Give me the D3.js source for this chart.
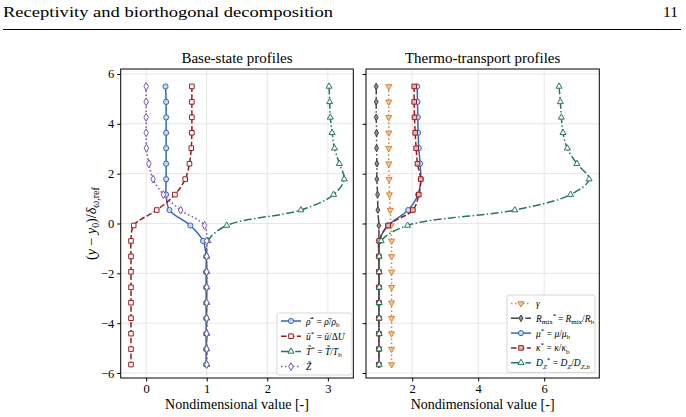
<!DOCTYPE html>
<html lang="en">
<head>
<style>
html, body {
    margin: 0;
    padding: 0;
    background: #fff;
}
svg {
    width: 686px;
    height: 417px;
    display: block;
}
</style>
</head>
<body>
<svg></svg>

<script src="https://cdn.jsdelivr.net/npm/d3@7/dist/d3.min.js"></script>
<script>
// profile data (y position of each marker)
var yPos = [5.5, 4.88, 4.26, 3.64, 3.02, 2.40, 1.78, 1.16, 0.54, -0.08, -0.70,
            -1.32, -1.94, -2.56, -3.18, -3.80, -4.42, -5.04, -5.66];

// base-state profiles
var rhoVals = [0.32, 0.33, 0.33, 0.33, 0.33, 0.33, 0.33, 0.33, 0.385, 0.73, 0.94,
               0.99, 0.99, 0.99, 0.99, 0.99, 0.99, 0.99, 0.99];
var uVals   = [0.755, 0.755, 0.755, 0.755, 0.745, 0.715, 0.645, 0.475, 0.175, -0.205, -0.25,
               -0.25, -0.25, -0.25, -0.25, -0.25, -0.25, -0.25, -0.25];
var tVals   = [3.02, 3.03, 3.04, 3.07, 3.11, 3.19, 3.27, 3.095, 2.555, 1.33, 1.02,
               1.0, 1.0, 1.0, 1.0, 1.0, 1.0, 1.0, 1.0];
var zVals   = [0.0, 0.0, 0.0, 0.0, 0.005, 0.045, 0.115, 0.285, 0.57, 0.965, 1.0,
               1.0, 1.0, 1.0, 1.0, 1.0, 1.0, 1.0, 1.0];

// thermo-transport profiles
var gammaVals = [1.29, 1.29, 1.29, 1.29, 1.29, 1.29, 1.30, 1.31, 1.335, 1.355, 1.375,
                 1.375, 1.375, 1.375, 1.375, 1.375, 1.375, 1.375, 1.375];
var rmixVals  = [0.91, 0.91, 0.91, 0.92, 0.92, 0.93, 0.93, 0.95, 0.96, 0.99, 0.99,
                 0.99, 0.99, 0.99, 0.99, 0.99, 0.99, 0.99, 0.99];
var muVals    = [2.15, 2.16, 2.17, 2.18, 2.20, 2.24, 2.26, 2.18, 1.88, 1.27, 1.0,
                 0.99, 0.99, 0.99, 0.99, 0.99, 0.99, 0.99, 0.99];
var kappaVals = [2.06, 2.06, 2.07, 2.09, 2.12, 2.16, 2.26, 2.20, 2.02, 1.27, 1.0,
                 0.99, 0.99, 0.99, 0.99, 0.99, 0.99, 0.99, 0.99];
var dzVals    = [6.45, 6.49, 6.52, 6.57, 6.70, 6.99, 7.36, 6.80, 5.11, 1.86, 1.06,
                 1.0, 1.0, 1.0, 1.0, 1.0, 1.0, 1.0, 1.0];

var yTicks = [-6, -4, -2, 0, 2, 4, 6];
var xTicksLeft = [0, 1, 2, 3];
var xTicksRight = [2, 4, 6];

var FONT = "'Liberation Serif', 'Times New Roman', serif";
var svg = d3.select("svg");

/////////////////////////////////////////
// page header
/////////////////////////////////////////
svg.append("text")
    .attr("x", 3).attr("y", 17)
    .style("font-family", FONT)
    .attr("font-size", 15.5)
    .attr("textLength", 330)
    .attr("lengthAdjust", "spacingAndGlyphs")
    .text("Receptivity and biorthogonal decomposition");
svg.append("text")
    .attr("x", 678).attr("y", 17)
    .style("font-family", FONT)
    .attr("font-size", 15.5)
    .attr("text-anchor", "end")
    .text("11");
svg.append("line")
    .attr("x1", 3).attr("x2", 681)
    .attr("y1", 29.5).attr("y2", 29.5)
    .attr("stroke", "#000").attr("stroke-width", 1);

/////////////////////////////////////////
// scales
/////////////////////////////////////////
var yScale = d3.scaleLinear().domain([-6.2, 6.2]).range([378, 69]);
var xLeft = d3.scaleLinear().domain([-0.42, 3.42]).range([120.7, 353.3]);
var xRight = d3.scaleLinear().domain([0.6, 7.67]).range([366, 599.3]);

var DASHED = "5.5,2.4";
var DASHDOT = "8,2.4,1.5,2.4";
var DOTTED = "1.5,2.5";

var symbols = {
    circle: d3.symbol().type(d3.symbolCircle).size(21),
    square: d3.symbol().type(d3.symbolSquare).size(21),
    triUp: d3.symbol().type(d3.symbolTriangle).size(16),
    diamond: d3.symbol().type(d3.symbolDiamond).size(18),
    thinDiamond: d3.symbol().type(d3.symbolDiamond).size(13)
};

var leftSeries = [
    {vals: rhoVals, color: "#3367b8", dash: null, marker: "circle", fill: 0.75},
    {vals: uVals, color: "#9b1c1c", dash: DASHED, marker: "square", fill: 1},
    {vals: tVals, color: "#23795b", dash: DASHDOT, marker: "triUp", fill: 1},
    {vals: zVals, color: "#7a52ad", dash: DOTTED, marker: "diamond", fill: 1}
];
var rightSeries = [
    {vals: gammaVals, color: "#d9832e", dash: DOTTED, marker: "triDown", fill: 0.55},
    {vals: rmixVals, color: "#444444", dash: DASHDOT, marker: "thinDiamond", fill: 0.4},
    {vals: muVals, color: "#3367b8", dash: null, marker: "circle", fill: 0.75},
    {vals: kappaVals, color: "#9b1c1c", dash: DASHED, marker: "square", fill: 0.7},
    {vals: dzVals, color: "#23795b", dash: DASHDOT, marker: "triUp", fill: 1}
];

function markerPath(name) {
    if (name === "triDown") return symbols.triUp();
    return symbols[name]();
}

function drawMarker(g, s, x, y) {
    g.append("path")
        .attr("d", markerPath(s.marker))
        .attr("transform", "translate(" + x + "," + y + ")" + (s.marker === "triDown" ? " rotate(180)" : ""))
        .attr("fill", d3.interpolateRgb(s.color, "#fff")(s.fill))
        .attr("stroke", s.color)
        .attr("stroke-width", 1);
}

/////////////////////////////////////////
// panel drawing
/////////////////////////////////////////
function drawPanel(xScale, xTicks, series, title, showYLabels) {
    var x0 = xScale.range()[0], x1 = xScale.range()[1];
    var y0 = yScale.range()[1], y1 = yScale.range()[0];
    var g = svg.append("g");

    // grid
    g.selectAll(".gx").data(xTicks).enter().append("line")
        .attr("x1", function(d){ return xScale(d) })
        .attr("x2", function(d){ return xScale(d) })
        .attr("y1", y0).attr("y2", y1)
        .attr("stroke", "#e3e3e3").attr("stroke-width", 0.9);
    g.selectAll(".gy").data(yTicks).enter().append("line")
        .attr("x1", x0).attr("x2", x1)
        .attr("y1", function(d){ return yScale(d) })
        .attr("y2", function(d){ return yScale(d) })
        .attr("stroke", "#e3e3e3").attr("stroke-width", 0.9);

    // curves + markers
    var line = d3.line()
        .x(function(d){ return xScale(d[0]) })
        .y(function(d){ return yScale(d[1]) })
        .curve(d3.curveCatmullRom.alpha(0.5));

    series.forEach(function(s) {
        var pts = s.vals.map(function(v, i){ return [v, yPos[i]] });
        g.append("path")
            .attr("d", line(pts))
            .attr("fill", "none")
            .attr("stroke", s.color)
            .attr("stroke-width", 1.5)
            .attr("stroke-dasharray", s.dash);
        pts.forEach(function(p) {
            drawMarker(g, s, xScale(p[0]), yScale(p[1]));
        });
    });

    // axes
    var xAxis = d3.axisBottom(xScale).tickValues(xTicks).tickSize(3.5).tickPadding(3)
        .tickFormat(function(d){ return d < 0 ? "\u2212" + Math.abs(d) : d });
    var yAxis = d3.axisLeft(yScale).tickValues(yTicks).tickSize(3.5).tickPadding(3)
        .tickFormat(function(d){ return showYLabels ? (d < 0 ? "\u2212" + Math.abs(d) : d) : "" });

    var ax = g.append("g").attr("transform", "translate(0," + y1 + ")").call(xAxis);
    var ay = g.append("g").attr("transform", "translate(" + x0 + ",0)").call(yAxis);
    [ax, ay].forEach(function(a) {
        a.attr("font-family", null);
        a.select(".domain").remove();
        a.selectAll("text").attr("font-size", 12.5).style("font-family", FONT).attr("fill", "#000");
        a.selectAll("line").attr("stroke", "#000");
    });

    // frame
    g.append("rect")
        .attr("x", x0).attr("y", y0)
        .attr("width", x1 - x0).attr("height", y1 - y0)
        .attr("fill", "none").attr("stroke", "#000").attr("stroke-width", 1);

    // title and x label
    g.append("text")
        .attr("x", (x0 + x1) / 2).attr("y", 63)
        .attr("text-anchor", "middle").attr("font-size", 15)
        .style("font-family", FONT)
        .text(title);
    g.append("text")
        .attr("x", (x0 + x1) / 2).attr("y", 409)
        .attr("text-anchor", "middle").attr("font-size", 14)
        .style("font-family", FONT)
        .text("Nondimensional value [-]");
    return g;
}

drawPanel(xLeft, xTicksLeft, leftSeries, "Base-state profiles", true);
drawPanel(xRight, xTicksRight, rightSeries, "Thermo-transport profiles", false);

/////////////////////////////////////////
// y label
/////////////////////////////////////////
var ylab = svg.append("text")
    .attr("transform", "translate(96,223.5) rotate(-90)")
    .attr("text-anchor", "middle")
    .style("font-family", FONT)
    .attr("font-size", 14);
ylab.append("tspan").text("(");
ylab.append("tspan").attr("font-style", "italic").text("y");
ylab.append("tspan").text(" \u2212 ");
ylab.append("tspan").attr("font-style", "italic").text("y");
ylab.append("tspan").attr("font-size", 10).attr("dy", 3).text("0");
ylab.append("tspan").attr("dy", -3).text(")/");
ylab.append("tspan").attr("font-style", "italic").text("\u03b4");
ylab.append("tspan").attr("font-size", 10).attr("dy", 3).attr("font-style", "italic").text("\u03c9");
ylab.append("tspan").attr("font-size", 10).text(",ref");

/////////////////////////////////////////
// legends
/////////////////////////////////////////
// each label is a list of [text, style] parts; style: i = italic, sub, sup
var leftLabels = [
    [["\u03c1\u0304", "i"], ["*", "sup"], [" = ", ""], ["\u03c1\u0304", "i"], ["/", ""], ["\u03c1", "i"], ["b", "sub"]],
    [["u\u0304", "i"], ["*", "sup"], [" = ", ""], ["u\u0304", "i"], ["/\u0394", ""], ["U", "i"]],
    [["T\u0303", "i"], ["*", "sup"], [" = ", ""], ["T\u0303", "i"], ["/", ""], ["T", "i"], ["b", "sub"]],
    [["Z\u0303", "i"]]
];
var rightLabels = [
    [["\u03b3", "i"]],
    [["R", "i"], ["mix", "sub"], ["*", "sup"], ["\u2009=\u2009", ""], ["R", "i"], ["mix", "sub"], ["/", ""], ["R", "i"], ["b", "sub"]],
    [["\u03bc", "i"], ["*", "sup"], [" = ", ""], ["\u03bc", "i"], ["/", ""], ["\u03bc", "i"], ["b", "sub"]],
    [["\u03ba", "i"], ["*", "sup"], [" = ", ""], ["\u03ba", "i"], ["/", ""], ["\u03ba", "i"], ["b", "sub"]],
    [["D", "i"], ["Z", "subi"], ["*", "sup"], [" = ", ""], ["D", "i"], ["Z", "subi"], ["/", ""], ["D", "i"], ["Z,b", "subi"]]
];

function writeLabel(textEl, parts) {
    var shift = 0;
    parts.forEach(function(p) {
        var t = textEl.append("tspan").text(p[0]);
        var target = 0, size = 9.5;
        if (p[1] === "i") t.attr("font-style", "italic");
        if (p[1] === "sup") { target = -4; size = 7; }
        if (p[1] === "sub" || p[1] === "subi") { target = 2.5; size = 7; }
        if (p[1] === "subi") t.attr("font-style", "italic");
        t.attr("font-size", size).attr("dy", target - shift);
        shift = target;
    });
}

function drawLegend(series, labels, x, y, w, h, rowH, firstRow) {
    var g = svg.append("g");
    g.append("rect")
        .attr("x", x).attr("y", y).attr("width", w).attr("height", h)
        .attr("rx", 2)
        .attr("fill", "#fff").attr("fill-opacity", 0.85)
        .attr("stroke", "#d6d6d6").attr("stroke-width", 1);
    series.forEach(function(s, i) {
        var cy = y + firstRow + i * rowH;
        g.append("line")
            .attr("x1", x + 4).attr("x2", x + 24)
            .attr("y1", cy).attr("y2", cy)
            .attr("stroke", s.color).attr("stroke-width", 1.5)
            .attr("stroke-dasharray", s.dash);
        drawMarker(g, s, x + 14, cy);
        var t = g.append("text")
            .attr("x", x + 29).attr("y", cy + 3.5)
            .style("font-family", FONT)
            .attr("font-size", 9.5);
        writeLabel(t, labels[i]);
    });
}

drawLegend(leftSeries, leftLabels, 277, 313, 75, 62, 15.2, 8);
drawLegend(rightSeries, rightLabels, 507, 295, 88, 77.5, 14.8, 8.5);
</script>
</body>
</html>
